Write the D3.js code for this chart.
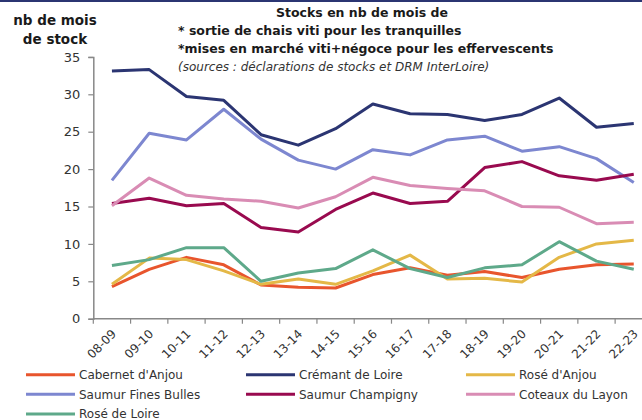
<!DOCTYPE html>
<html>
<head>
<meta charset="utf-8">
<script src="https://cdn.jsdelivr.net/npm/d3@7"></script>
<style>
  body { margin: 0; background: #fff; }
  svg { display: block; font-family: "DejaVu Sans", sans-serif; }
</style>
</head>
<body>
<div id="chart"></div>
<script>
// campagnes
var campaigns = ["08-09", "09-10", "10-11", "11-12", "12-13", "13-14", "14-15", "15-16",
                 "16-17", "17-18", "18-19", "19-20", "20-21", "21-22", "22-23"];

// nb de mois de stock, par appellation
var cabernetAnjou = [4.3, 6.6, 8.2, 7.2, 4.5, 4.2, 4.1, 5.9, 6.8, 5.8, 6.3, 5.5, 6.6, 7.2, 7.3];
var cremantLoire = [33.1, 33.3, 29.7, 29.2, 24.6, 23.2, 25.4, 28.7, 27.4, 27.3, 26.5, 27.3, 29.5, 25.6, 26.1];
var roseAnjou = [4.6, 8.1, 7.9, 6.4, 4.6, 5.3, 4.6, 6.4, 8.5, 5.3, 5.4, 4.9, 8.2, 10.0, 10.5];
var saumurFB = [18.5, 24.8, 23.9, 28.0, 24.0, 21.2, 20.0, 22.6, 21.9, 23.9, 24.4, 22.4, 23.0, 21.4, 18.2];
var saumurChampigny = [15.4, 16.1, 15.1, 15.4, 12.2, 11.6, 14.6, 16.8, 15.4, 15.7, 20.2, 21.0, 19.1, 18.5, 19.3];
var coteauxLayon = [15.1, 18.8, 16.5, 16.0, 15.7, 14.8, 16.3, 18.9, 17.8, 17.4, 17.1, 15.0, 14.9, 12.7, 12.9];
var roseLoire = [7.1, 7.9, 9.5, 9.5, 5.0, 6.1, 6.7, 9.2, 6.7, 5.5, 6.8, 7.2, 10.3, 7.7, 6.6];

var yTicks = [0, 5, 10, 15, 20, 25, 30, 35];

var series = [
    { name: "Cabernet d'Anjou", values: cabernetAnjou, color: "#e8552d" },
    { name: "Crémant de Loire", values: cremantLoire, color: "#2b3572" },
    { name: "Rosé d'Anjou", values: roseAnjou, color: "#e4b847" },
    { name: "Saumur Fines Bulles", values: saumurFB, color: "#7d87d0" },
    { name: "Saumur Champigny", values: saumurChampigny, color: "#990a4f" },
    { name: "Coteaux du Layon", values: coteauxLayon, color: "#d98cb4" },
    { name: "Rosé de Loire", values: roseLoire, color: "#5ea98a" }
];

var width = 642, height = 420;
var svg = d3.select("#chart").append("svg").attr("width", width).attr("height", height);

// bandeau du haut
svg.append("rect").attr("x", 0).attr("y", 0).attr("width", width).attr("height", 2).attr("fill", "#2b3572");

var x = d3.scaleBand().domain(campaigns).range([93.3, 652.4]).padding(0);
var y = d3.scaleLinear().domain([0, 35]).range([318.7, 56.9]);
var axisColor = "#888";

// titre
var title = svg.append("g").attr("fill", "#1a1a1a").attr("font-size", 12.5);
title.append("text").attr("x", 362).attr("y", 17).attr("text-anchor", "middle")
    .attr("font-weight", "bold").text("Stocks en nb de mois de");
title.append("text").attr("x", 178).attr("y", 35).attr("font-weight", "bold")
    .text("* sortie de chais viti pour les tranquilles");
title.append("text").attr("x", 178).attr("y", 53).attr("font-weight", "bold")
    .text("*mises en marché viti+négoce pour les effervescents");
title.append("text").attr("x", 178).attr("y", 71).attr("font-style", "italic").attr("fill", "#333")
    .attr("font-size", 12).text("(sources : déclarations de stocks et DRM InterLoire)");

// titre axe y
svg.append("text").attr("x", 55).attr("y", 25).attr("text-anchor", "middle")
    .attr("font-weight", "bold").attr("font-size", 13.5).attr("fill", "#1a1a1a").text("nb de mois");
svg.append("text").attr("x", 55).attr("y", 44).attr("text-anchor", "middle")
    .attr("font-weight", "bold").attr("font-size", 13.5).attr("fill", "#1a1a1a").text("de stock");

// axe y
var yAxis = svg.append("g").attr("transform", "translate(93.3,0)")
    .call(d3.axisLeft(y).tickValues(yTicks).tickSize(5).tickPadding(8));
yAxis.select(".domain").attr("stroke", axisColor).attr("stroke-width", 1.5);
yAxis.selectAll(".tick line").attr("stroke", axisColor).attr("stroke-width", 1.2);
yAxis.selectAll(".tick text").attr("font-size", 13).attr("fill", "#333").attr("font-family", "DejaVu Sans");

// axe x : graduations aux limites des catégories
var xAxisG = svg.append("g");
xAxisG.append("line").attr("x1", x.range()[0]).attr("x2", x.range()[1])
    .attr("y1", y(0)).attr("y2", y(0)).attr("stroke", axisColor).attr("stroke-width", 1.5);
xAxisG.selectAll("line.tk").data(campaigns).enter().append("line").attr("class", "tk")
    .attr("x1", d => x(d)).attr("x2", d => x(d))
    .attr("y1", y(0)).attr("y2", y(0) + 5).attr("stroke", axisColor).attr("stroke-width", 1.2);
xAxisG.selectAll("text").data(campaigns).enter().append("text")
    .attr("transform", d => "translate(" + (x(d) + x.bandwidth() / 2 + 2) + "," + (y(0) + 13) + ") rotate(-45)")
    .attr("text-anchor", "end").attr("dy", "0.35em")
    .attr("font-size", 12).attr("fill", "#333").text(d => d);

// courbes
var line = d3.line()
    .x((d, i) => x(campaigns[i]) + x.bandwidth() / 2)
    .y(d => y(d));

svg.append("g").selectAll("path").data(series).enter().append("path")
    .attr("d", d => line(d.values))
    .attr("fill", "none")
    .attr("stroke", d => d.color)
    .attr("stroke-width", 3)
    .attr("stroke-linejoin", "round");

// légende
var legend = svg.append("g").attr("font-size", 12).attr("fill", "#333");
var colX = [26, 246, 466];
series.forEach(function (s, i) {
    var lx = colX[i % 3], ly = 374.7 + Math.floor(i / 3) * 19.6;
    legend.append("line").attr("x1", lx).attr("x2", lx + 49).attr("y1", ly).attr("y2", ly)
        .attr("stroke", s.color).attr("stroke-width", 3);
    legend.append("text").attr("x", lx + 53).attr("y", ly).attr("dy", "0.35em").text(s.name);
});
</script>
</body>
</html>
